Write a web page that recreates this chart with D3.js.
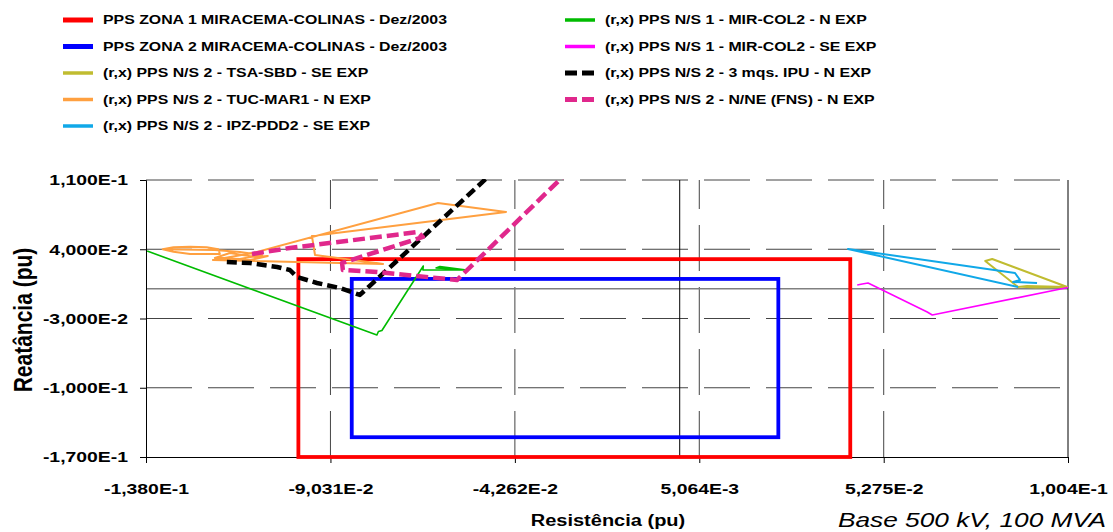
<!DOCTYPE html>
<html>
<head>
<meta charset="utf-8">
<script src="https://cdn.jsdelivr.net/npm/d3@7"></script>
<style>
  html, body { margin: 0; padding: 0; background: #fff; }
  svg { display: block; font-family: Arial, "Liberation Sans", sans-serif; }
</style>
</head>
<body>
<svg id="chart" width="1113" height="532"></svg>
<script>
// Axis ticks (resistance r, reactance x, in pu)
const xTickValues = [-0.138, -0.09031, -0.04262, 0.005064, 0.05275, 0.1004];
const xTickLabels = ["-1,380E-1", "-9,031E-2", "-4,262E-2", "5,064E-3", "5,275E-2", "1,004E-1"];
const yTickValues = [0.11, 0.04, -0.03, -0.10, -0.17];
const yTickLabels = ["1,100E-1", "4,000E-2", "-3,000E-2", "-1,000E-1", "-1,700E-1"];

// Protection zones: [rMin, rMax, xMin, xMax]
const zona1 = [-0.0986, 0.0441, -0.17, 0.030];
const zona2 = [-0.0848, 0.0255, -0.150, 0.010];

// Impedance trajectories [r, x]
const tsaSbd = [[0.1002, 0.0018], [0.0808, 0.0301], [0.0790, 0.0281], [0.0875, 0.0018],
  [0.0898, 0.0029], [0.0950, 0.0024], [0.1002, 0.0018], [0.0920, 0.0014], [0.0885, 0.0022], [0.1002, 0.0018]];
const tucMar1 = [[-0.1337, 0.0400], [-0.1309, 0.0420], [-0.1266, 0.0426], [-0.1223, 0.0420],
  [-0.1193, 0.0400], [-0.1189, 0.0352], [-0.1214, 0.0352], [-0.1266, 0.0352], [-0.1309, 0.0375],
  [-0.1337, 0.0400], [-0.1202, 0.0392], [-0.1137, 0.0372], [-0.1080, 0.0342], [-0.1137, 0.0301],
  [-0.1202, 0.0312], [-0.1163, 0.0362], [-0.1098, 0.0322], [-0.1065, 0.0332], [-0.1111, 0.0291],
  [-0.1207, 0.0291], [-0.1103, 0.0362], [-0.0625, 0.0868], [-0.0449, 0.0777], [-0.0951, 0.0534],
  [-0.0943, 0.0342], [-0.0767, 0.0251], [-0.1207, 0.0291]];
const ipzPdd2 = [[0.0875, 0.0018], [0.0435, 0.0403], [0.0867, 0.0160], [0.0880, 0.0089],
  [0.0862, 0.0069], [0.0924, 0.0059]];
const mirCol2N = [[-0.1377, 0.0382], [-0.0783, -0.0467], [-0.0779, -0.0431], [-0.0770, -0.0421],
  [-0.0663, 0.0231], [-0.0664, 0.0190], [-0.0551, 0.0190], [-0.0620, 0.0226], [-0.0630, 0.0211],
  [-0.0581, 0.0200]];
const mirCol2SE = [[0.0459, 0.0039], [0.0472, 0.0049], [0.0487, 0.0059], [0.0640, -0.0234],
  [0.0653, -0.0265], [0.1004, 0.0013]];
const ipu3mqs = [[-0.1171, 0.0271], [-0.1111, 0.0261], [-0.1041, 0.0221], [-0.1008, 0.0190],
  [-0.0990, 0.0120], [-0.0938, 0.0059], [-0.0878, 0.0008], [-0.0827, -0.0062], [-0.0465, 0.1242]];
const nneFns = [[-0.1106, 0.0352], [-0.1008, 0.0413], [-0.0677, 0.0574], [-0.0664, 0.0524],
  [-0.0873, 0.0261], [-0.0871, 0.0190], [-0.0783, 0.0170], [-0.0576, 0.0089], [-0.0271, 0.1252]];

const legendNames = [
  "PPS ZONA 1 MIRACEMA-COLINAS - Dez/2003",
  "PPS ZONA 2 MIRACEMA-COLINAS - Dez/2003",
  "(r,x) PPS N/S 2 - TSA-SBD - SE EXP",
  "(r,x) PPS N/S 2 - TUC-MAR1 - N EXP",
  "(r,x) PPS N/S 2 - IPZ-PDD2 - SE EXP",
  "(r,x) PPS N/S 1 - MIR-COL2 - N EXP",
  "(r,x) PPS N/S 1 - MIR-COL2 - SE EXP",
  "(r,x) PPS N/S 2 - 3 mqs. IPU - N EXP",
  "(r,x) PPS N/S 2 - N/NE (FNS) - N EXP"
];

const styles = [
  { color: "#ff0000", width: 3.8, dash: null },
  { color: "#0000ff", width: 3.8, dash: null },
  { color: "#c0bc30", width: 2, dash: null },
  { color: "#ffa040", width: 2, dash: null },
  { color: "#10a8e8", width: 2, dash: null },
  { color: "#00bb00", width: 1.6, dash: null },
  { color: "#ff00ff", width: 1.6, dash: null },
  { color: "#000000", width: 4.5, dash: "10,5" },
  { color: "#e0288c", width: 4.5, dash: "12,5" }
];

// Type is set slightly wide (horizontal stretch factor)
const WIDE = 1.25;
function widen(sel) {
  sel.each(function () {
    const len = this.getComputedTextLength();
    d3.select(this).attr("textLength", len * WIDE).attr("lengthAdjust", "spacingAndGlyphs");
  });
}

const svg = d3.select("#chart");
const plot = { left: 146, right: 1068, top: 180, bottom: 457 };

const xScale = d3.scaleLinear().domain([-0.138, 0.1004]).range([plot.left, plot.right]);
const yScale = d3.scaleLinear().domain([-0.17, 0.11]).range([plot.bottom, plot.top]);

svg.append("defs").append("clipPath").attr("id", "plotClip")
  .append("rect")
  .attr("x", plot.left).attr("y", plot.top - 1)
  .attr("width", plot.right - plot.left).attr("height", plot.bottom - plot.top + 3);

// Grid
const grid = svg.append("g");
grid.selectAll("line.h").data(yTickValues.slice(0, -1)).enter().append("line")
  .attr("x1", plot.left).attr("x2", plot.right)
  .attr("y1", d => yScale(d)).attr("y2", d => yScale(d))
  .attr("stroke", "#444").attr("stroke-width", 1).attr("stroke-dasharray", "46,16");
grid.selectAll("line.v").data(xTickValues.slice(1, -1)).enter().append("line")
  .attr("y1", plot.bottom).attr("y2", plot.top)
  .attr("x1", d => xScale(d)).attr("x2", d => xScale(d))
  .attr("stroke", "#444").attr("stroke-width", 1).attr("stroke-dasharray", "46,16");
// Reference axes r = 0 and x = 0
grid.append("line").attr("x1", plot.left).attr("x2", plot.right)
  .attr("y1", yScale(0)).attr("y2", yScale(0)).attr("stroke", "#808080").attr("stroke-width", 1.5);
grid.append("line").attr("y1", plot.top).attr("y2", plot.bottom)
  .attr("x1", xScale(0)).attr("x2", xScale(0)).attr("stroke", "#000").attr("stroke-width", 1);
grid.append("line").attr("y1", plot.top).attr("y2", plot.bottom)
  .attr("x1", plot.right).attr("x2", plot.right).attr("stroke", "#000").attr("stroke-width", 1);

// Axes
const yAxis = d3.axisLeft(yScale).tickValues(yTickValues)
  .tickFormat((d, i) => yTickLabels[i]).tickSize(6).tickPadding(12);
const xAxis = d3.axisBottom(xScale).tickValues(xTickValues)
  .tickFormat((d, i) => xTickLabels[i]).tickSize(6).tickPadding(20);

const gy = svg.append("g").attr("transform", `translate(${plot.left},0)`).call(yAxis);
const gx = svg.append("g").attr("transform", `translate(0,${plot.bottom})`).call(xAxis);
[gx, gy].forEach(g => {
  g.select(".domain").attr("stroke", "#000").attr("stroke-width", 1);
  g.selectAll(".tick line").attr("stroke", "#000");
  g.selectAll("text").attr("font-size", 15.5).attr("font-weight", "bold")
    .attr("font-family", "Arial, 'Liberation Sans', sans-serif").attr("fill", "#000")
    .call(widen);
});

// Data
const data = svg.append("g").attr("clip-path", "url(#plotClip)");
const line = d3.line().x(d => xScale(d[0])).y(d => yScale(d[1]));

function zone(z, s) {
  data.append("rect")
    .attr("x", xScale(z[0])).attr("y", yScale(z[3]))
    .attr("width", xScale(z[1]) - xScale(z[0]))
    .attr("height", yScale(z[2]) - yScale(z[3]))
    .attr("fill", "none").attr("stroke", s.color).attr("stroke-width", s.width);
}
zone(zona1, styles[0]);
zone(zona2, styles[1]);

const traces = [tsaSbd, tucMar1, ipzPdd2, mirCol2N, mirCol2SE, ipu3mqs, nneFns];
traces.forEach((t, i) => {
  const s = styles[i + 2];
  data.append("path").attr("d", line(t))
    .attr("fill", "none").attr("stroke", s.color).attr("stroke-width", s.width)
    .attr("stroke-linejoin", "round")
    .attr("stroke-dasharray", s.dash);
});

// Legend
const legend = svg.append("g");
legendNames.forEach((name, i) => {
  const col = i < 5 ? 0 : 1;
  const row = i < 5 ? i : i - 5;
  const x0 = col === 0 ? 63 : 565;
  const y0 = 20 + row * 26.5;
  const s = styles[i];
  legend.append("line").attr("x1", x0).attr("x2", x0 + 30).attr("y1", y0).attr("y2", y0)
    .attr("stroke", s.color)
    .attr("stroke-width", i < 2 ? 5 : (s.dash ? 5 : 3.5))
    .attr("stroke-dasharray", s.dash ? "12,5" : null);
  legend.append("text").attr("x", x0 + 40).attr("y", y0).attr("dy", "0.35em")
    .attr("font-size", 12.7).attr("font-weight", "bold").text(name)
    .call(widen);
});

// Axis titles
svg.append("text").attr("transform", `translate(23,320) scale(${WIDE},1) rotate(-90)`)
  .attr("text-anchor", "middle").attr("dy", "0.35em")
  .attr("font-size", 21).attr("font-weight", "bold").text("Reatância (pu)");
svg.append("text").attr("x", 608).attr("y", 520).attr("text-anchor", "middle").attr("dy", "0.35em")
  .attr("font-size", 16).attr("font-weight", "bold").text("Resistência (pu)")
  .call(widen);
svg.append("text").attr("x", 1106).attr("y", 520).attr("text-anchor", "end").attr("dy", "0.35em")
  .attr("font-size", 21).attr("font-style", "italic").text("Base 500 kV, 100 MVA")
  .call(widen);
</script>
</body>
</html>
